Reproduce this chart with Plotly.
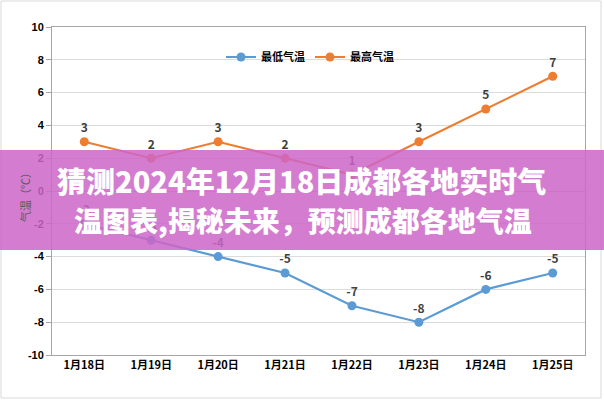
import plotly.graph_objects as go

dates = ["1月18日", "1月19日", "1月20日", "1月21日", "1月22日", "1月23日", "1月24日", "1月25日"]
low_temps = [-2, -3, -4, -5, -7, -8, -6, -5]
high_temps = [3, 2, 3, 2, 1, 3, 5, 7]
series_names = ["最低气温", "最高气温"]
y_ticks = [-10, -8, -6, -4, -2, 0, 2, 4, 6, 8, 10]
y_tick_labels = ["-10", "-8", "-6", "-4", "-2", "0", "2", "4", "6", "8", "10"]
banner_lines = ["猜测2024年12月18日成都各地实时气", "温图表,揭秘未来，预测成都各地气温"]
y_title = "气温（℃）"

FONT = "Noto Sans CJK SC"
W, H = 604, 400
L, R, T, B = 52, 19, 27, 45
pw, ph = W - L - R, H - T - B

def px_x(p):
    return (p - L) / pw

def px_y(p):
    return (H - B - p) / ph

fig = go.Figure()
for name, vals, col in [(series_names[0], low_temps, "#5B9BD5"), (series_names[1], high_temps, "#ED7D31")]:
    fig.add_trace(go.Scatter(
        x=dates, y=vals, name=name, mode="lines+markers+text",
        line=dict(color=col, width=2.2),
        marker=dict(color=col, size=9),
        text=[str(v) for v in vals], textposition="top center",
        textfont=dict(family=FONT, size=12, color="#404040", weight="bold"),
    ))

fig.update_layout(
    width=W, height=H,
    margin=dict(l=L, r=R, t=T, b=B),
    paper_bgcolor="white", plot_bgcolor="white",
    font=dict(family=FONT),
    showlegend=True,
    legend=dict(orientation="h", x=px_x(310), xanchor="center", y=px_y(57), yanchor="middle",
                font=dict(family=FONT, size=11, color="#000000", weight="bold"),
                bgcolor="rgba(0,0,0,0)", itemwidth=30, tracegroupgap=0),
    xaxis=dict(type="category", showgrid=False, showline=True, linecolor="#a6a6a6", linewidth=1,
               mirror=True, ticks="", tickfont=dict(family=FONT, size=11, color="#000000", weight="bold")),
    yaxis=dict(range=[-10, 10], tickvals=y_ticks, ticktext=y_tick_labels,
               showgrid=True, gridcolor="#dcdcdc", gridwidth=1,
               showline=True, linecolor="#a6a6a6", linewidth=1, mirror=True,
               ticks="outside", ticklen=5, tickcolor="#a6a6a6",
               zeroline=True, zerolinecolor="#c8c8c8", zerolinewidth=1,
               tickfont=dict(family="Liberation Sans", size=11, color="#000000", weight="bold")),
)

# outer frame
fig.add_shape(type="rect", xref="paper", yref="paper",
              x0=px_x(1), x1=px_x(601), y0=px_y(398), y1=px_y(1),
              line=dict(color="#d9d9d9", width=1), fillcolor="rgba(0,0,0,0)", layer="below")

# y title
fig.add_annotation(text=y_title, xref="paper", yref="paper", x=px_x(15), y=px_y(195),
                   textangle=-90, showarrow=False,
                   font=dict(family=FONT, size=11, color="#595959"))

# banner
fig.add_shape(type="rect", xref="paper", yref="paper",
              x0=px_x(0), x1=px_x(604), y0=px_y(250), y1=px_y(150),
              line=dict(width=0), fillcolor="rgba(204,101,200,0.85)", layer="above")
banner_sizes = [29, 28]
for i, line in enumerate(banner_lines):
    fig.add_annotation(text=line, xref="paper", yref="paper", x=px_x(301 + 2 * i), y=px_y(180 + 40 * i),
                       xanchor="center", yanchor="middle", showarrow=False,
                       font=dict(family=FONT, size=banner_sizes[i], color="white", weight=900))

fig.write_html("out.html")
